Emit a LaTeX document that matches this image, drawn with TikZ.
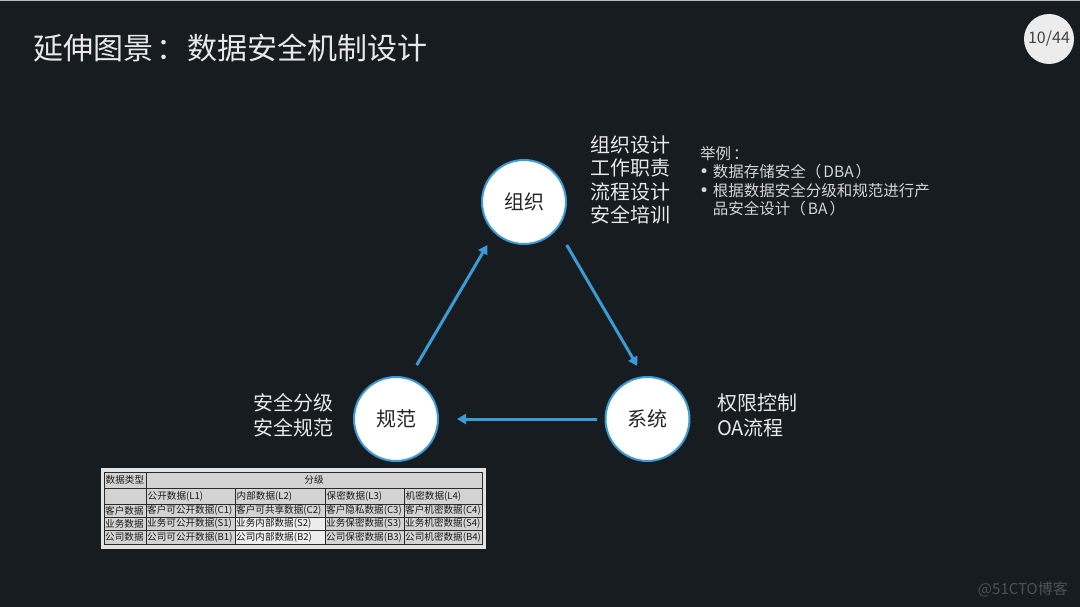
\documentclass[tikz,border=0pt]{standalone}
\usepackage{fontspec}
\setmainfont{Noto Sans CJK SC}
\newfontfamily\dvsans{DejaVu Sans}
\usetikzlibrary{arrows.meta,calc}
\definecolor{bg}{HTML}{171C20}
\definecolor{accent}{HTML}{3A9BD5}
\definecolor{txt}{HTML}{E8E8E8}
\definecolor{subtxt}{HTML}{D4D4D4}
\definecolor{tblbg}{HTML}{D3D3D3}
\definecolor{tbllight}{HTML}{ECECEC}
\definecolor{tblframe}{HTML}{E2E2E2}
\definecolor{tblline}{HTML}{2A2A2A}
\definecolor{pagebg}{HTML}{ECECEC}
\definecolor{pagetxt}{HTML}{444444}
\definecolor{wmcol}{HTML}{4C5157}
\tikzset{
  circ/.style={circle,draw=accent,line width=2pt,fill=white,minimum size=84pt,inner sep=0pt,text=black!85,font=\fontsize{20}{24}\selectfont},
  arr/.style={draw=accent,line width=3pt,-{Triangle[length=9pt,width=10pt]}},
  lbl/.style={text=txt,font=\fontsize{20}{24.5}\selectfont,inner sep=0pt},
  cell/.style={text=black!90,font=\fontsize{9.6}{11}\selectfont,inner sep=0pt,anchor=west},
  tline/.style={draw=tblline,line width=1pt},
}
\newcommand{\bulletmark}{\makebox[12.7pt][l]{\hspace{-1pt}\raisebox{0pt}{\dvsans\fontsize{17}{18}\selectfont •}}}
\begin{document}
\begin{tikzpicture}[x=1pt,y=1pt]
\fill[bg] (0,0) rectangle (1080,-607);
\useasboundingbox (0,0) rectangle (1080,-607);
\fill[gray!55] (0,0) rectangle (1080,-1.5);

% title and page number
\node[anchor=west,text=txt,font=\fontsize{30}{36}\selectfont,inner sep=0pt] (title) at (33,-48) {延伸图景\hspace{3pt}：\hspace{1pt}数据安全机制设计};
\node[circle,fill=pagebg,minimum size=50pt,inner sep=0pt,text=pagetxt,font=\fontsize{16}{18}\selectfont] (page) at (1049,-39) {10/44};

% circles
\node[circ] (zz) at (524,-202) {组织};
\node[circ] (gf) at (396,-419) {规范};
\node[circ] (xt) at (647.5,-419) {系统};

% arrows
\draw[arr] ($(gf)+(69:57.8)$) -- ($(zz)+(229.5:56.5)$);
\draw[arr] ($(zz)+(-45.2:60.6)$) -- ($(xt)+(100.9:54)$);
\draw[arr] ($(xt)+(180:50.5)$) -- ($(gf)+(0:61)$);

% labels
\node[lbl,anchor=east,align=right] (lefttxt) at (334,-415.5) {安全分级\\安全规范};
\node[lbl,anchor=west,align=left] (righttxt) at (717,-415.5) {权限控制\\OA流程};
\node[lbl,anchor=west,align=left,font=\fontsize{20}{23.4}\selectfont] (toptxt) at (590,-180) {组织设计\\工作职责\\流程设计\\安全培训};
\node[anchor=west,align=left,inner sep=0pt,text=subtxt,font=\fontsize{15.5}{18.5}\selectfont] (example) at (700,-181)
  {举例\hspace{2pt}：\\
   \bulletmark 数据存储安全（\hspace{2pt}DBA\hspace{2pt}）\\
   \bulletmark 根据数据安全分级和规范进行产\\
   \hspace*{12.7pt}品安全设计（\hspace{2pt}BA\hspace{2pt}）};

% table
\fill[tblframe] (101,-468) rectangle (486,-549);
\fill[tblbg] (104,-472) rectangle (482,-544);
\fill[tbllight] (235,-517) rectangle (325,-544);
\draw[tline] (104,-472) rectangle (482,-544);
\foreach \yy in {488,504,517,530} \draw[tline] (104,-\yy) -- (482,-\yy);
\draw[tline] (146,-472) -- (146,-544);
\foreach \xx in {235,325,404} \draw[tline] (\xx,-488) -- (\xx,-544);
\node[cell] (h0) at (105.5,-480) {数据类型};
\node[cell,anchor=center] (h1) at (314,-480) {分级};
\node[cell] (c21) at (147.5,-496) {公开数据(L1)};
\node[cell] (c22) at (236.5,-496) {内部数据(L2)};
\node[cell] (c23) at (326.5,-496) {保密数据(L3)};
\node[cell] (c24) at (405.5,-496) {机密数据(L4)};
\node[cell] (c30) at (105,-510.5) {客户数据};
\node[cell] (c31) at (147,-510.5) {客户可公开数据(C1)};
\node[cell] (c32) at (236,-510.5) {客户可共享数据(C2)};
\node[cell] (c33) at (326,-510.5) {客户隐私数据(C3)};
\node[cell] (c34) at (405,-510.5) {客户机密数据(C4)};
\node[cell] (c40) at (105,-523.5) {业务数据};
\node[cell] (c41) at (147,-523.5) {业务可公开数据(S1)};
\node[cell] (c42) at (236,-523.5) {业务内部数据(S2)};
\node[cell] (c43) at (326,-523.5) {业务保密数据(S3)};
\node[cell] (c44) at (405,-523.5) {业务机密数据(S4)};
\node[cell] (c50) at (105,-537) {公司数据};
\node[cell] (c51) at (147,-537) {公司可公开数据(B1)};
\node[cell] (c52) at (236,-537) {公司内部数据(B2)};
\node[cell] (c53) at (326,-537) {公司保密数据(B3)};
\node[cell] (c54) at (405,-537) {公司机密数据(B4)};

% watermark
\node[anchor=east,inner sep=0pt,text=wmcol,font=\fontsize{15}{18}\selectfont] (wm) at (1068,-589) {@51CTO博客};
\end{tikzpicture}
\end{document}
